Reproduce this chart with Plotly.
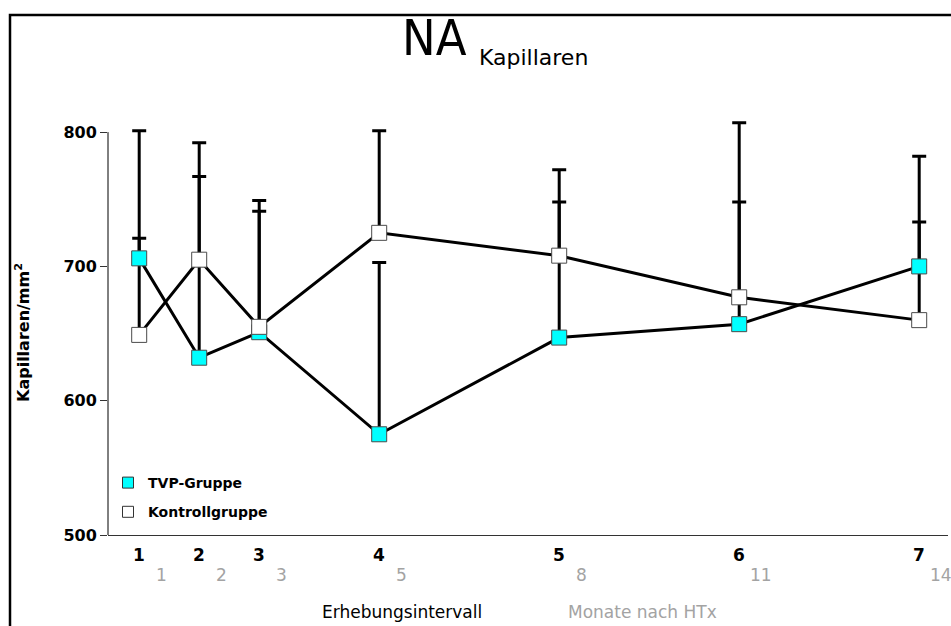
import plotly.graph_objects as go

# ---- data ----
intervals = ["1", "2", "3", "4", "5", "6", "7"]
months = [1, 2, 3, 5, 8, 11, 14]
month_labels = ["1", "2", "3", "5", "8", "11", "14"]
tvp = [706, 632, 651, 575, 647, 657, 700]
tvp_err = [15, 135, 90, 128, 101, 91, 33]
kontroll = [649, 705, 655, 725, 708, 677, 660]
kontroll_err = [152, 87, 94, 76, 64, 130, 122]
y_ticks = [500, 600, 700, 800]

W, H = 951, 626
L, R, T, B = 108, 3, 116, 91
PW, PH = W - L - R, H - T - B

def px_x(p):
    return (p - L) / PW

def px_y(p):
    return (H - B - p) / PH

FONT = "DejaVu Sans"
fig = go.Figure()

err_style = dict(type="data", symmetric=False, thickness=3, width=7, color="black")

# lines + error bars (drawn first, beneath markers)
for vals, errs in [(tvp, tvp_err), (kontroll, kontroll_err)]:
    fig.add_trace(go.Scatter(
        x=months, y=vals, mode="lines",
        line=dict(color="black", width=3),
        error_y=dict(array=errs, arrayminus=[0] * len(errs), **err_style),
        showlegend=False, hoverinfo="skip", cliponaxis=False,
    ))

# markers
fig.add_trace(go.Scatter(
    x=months, y=tvp, mode="markers", name="TVP-Gruppe",
    marker=dict(symbol="square", size=15, color="#00ffff",
                line=dict(color="#4a4a4a", width=1)),
    showlegend=False, cliponaxis=False,
))
fig.add_trace(go.Scatter(
    x=months, y=kontroll, mode="markers", name="Kontrollgruppe",
    marker=dict(symbol="square", size=15, color="white",
                line=dict(color="#4a4a4a", width=1)),
    showlegend=False, cliponaxis=False,
))

# legend-only entries
fig.add_trace(go.Scatter(
    x=[None], y=[None], mode="markers", name="TVP-Gruppe", legendgroup="a",
    marker=dict(symbol="square", size=11, color="#00ffff",
                line=dict(color="#333333", width=1)),
))
fig.add_trace(go.Scatter(
    x=[None], y=[None], mode="markers", name="Kontrollgruppe", legendgroup="b",
    marker=dict(symbol="square", size=11, color="white",
                line=dict(color="#333333", width=1)),
))

annotations = []
for iv, m, ml in zip(intervals, months, month_labels):
    annotations.append(dict(
        x=m, xref="x", y=px_y(555), yref="paper", text=iv, showarrow=False,
        xanchor="center", yanchor="middle",
        font=dict(family=FONT, size=17, color="black", weight="bold"),
    ))
    annotations.append(dict(
        x=m, xref="x", y=px_y(575), yref="paper", text=ml, showarrow=False,
        xanchor="center", yanchor="middle", xshift=22,
        font=dict(family=FONT, size=17, color="#a3a3a3"),
    ))

annotations += [
    dict(x=px_x(400), xref="paper", y=px_y(38), yref="paper", text="NA",
         showarrow=False, xanchor="left", yanchor="middle",
         font=dict(family="DejaVu Sans Condensed, Liberation Sans, sans-serif",
                   size=50, color="black")),
    dict(x=px_x(477), xref="paper", y=px_y(57), yref="paper", text="Kapillaren",
         showarrow=False, xanchor="left", yanchor="middle",
         font=dict(family=FONT, size=22, color="black")),
    dict(x=px_x(402), xref="paper", y=px_y(612), yref="paper",
         text="Erhebungsintervall", showarrow=False,
         xanchor="center", yanchor="middle",
         font=dict(family=FONT, size=17, color="black")),
    dict(x=px_x(566), xref="paper", y=px_y(612), yref="paper",
         text="Monate nach HTx", showarrow=False,
         xanchor="left", yanchor="middle",
         font=dict(family=FONT, size=17, color="#a3a3a3")),
    dict(x=px_x(22), xref="paper", y=px_y(333), yref="paper",
         text="Kapillaren/mm<sup>2</sup>", showarrow=False, textangle=-90,
         xanchor="center", yanchor="middle",
         font=dict(family=FONT, size=16, color="black", weight="bold")),
]

shapes = [
    # outer frame
    dict(type="rect", xref="paper", yref="paper",
         x0=px_x(10), x1=px_x(1010), y0=px_y(15), y1=px_y(700),
         line=dict(color="black", width=2.5), fillcolor="rgba(0,0,0,0)"),
    # y axis line from 500 to 800
    dict(type="line", xref="paper", yref="y", x0=0, x1=0, y0=500, y1=800,
         line=dict(color="black", width=1)),
]

fig.update_layout(
    width=W, height=H,
    margin=dict(l=L, r=R, t=T, b=B),
    paper_bgcolor="white", plot_bgcolor="white",
    xaxis=dict(range=[0.48, 14.48], showgrid=False, zeroline=False,
               showline=True, linecolor="#333333", linewidth=1,
               showticklabels=False, ticks=""),
    yaxis=dict(range=[500, 812], showgrid=False, zeroline=False,
               showline=False, tickvals=y_ticks, ticks="outside",
               ticklen=7, tickcolor="#333333", tickwidth=1,
               tickfont=dict(family=FONT, size=16, color="black", weight="bold")),
    legend=dict(x=0, xanchor="left", y=px_y(467), yanchor="top",
                bgcolor="rgba(0,0,0,0)", traceorder="grouped",
                tracegroupgap=8,
                font=dict(family=FONT, size=14, color="black", weight="bold")),
    annotations=annotations,
    shapes=shapes,
)

fig.write_html("out.html")
